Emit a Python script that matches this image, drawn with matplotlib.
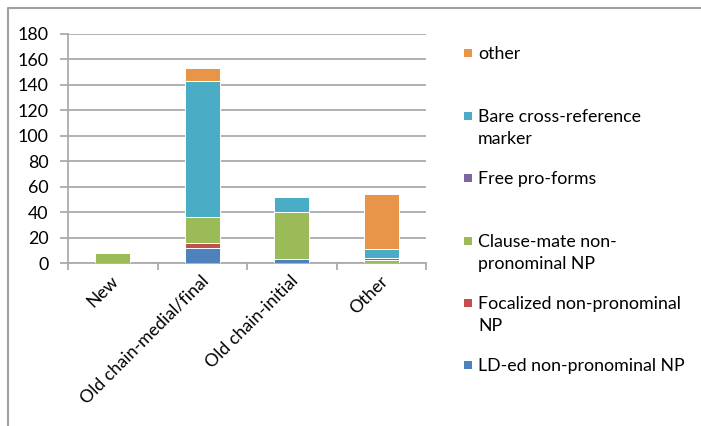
import numpy as np
import matplotlib
matplotlib.use("Agg")
from matplotlib import pyplot as plt
from matplotlib.patches import Rectangle
from matplotlib.lines import Line2D

plt.rcParams['font.family'] = ['Lato', 'DejaVu Sans']

# categories and stacked series (bottom to top)
categories = ['New', 'Old chain-medial/final', 'Old chain-initial', 'Other']
ld_ed = [0, 12, 3, 0]
focalized = [0, 4, 0, 0]
clause_mate = [8, 20, 37, 2]
free_pro = [0, 0, 0, 2]
bare_cross = [0, 107, 12, 7]
other = [0, 10, 0, 43]

series = [
    ('LD-ed non-pronominal NP', ld_ed, '#4F81BD'),
    ('Focalized non-pronominal\nNP', focalized, '#C0504D'),
    ('Clause-mate non-\npronominal NP', clause_mate, '#9BBB59'),
    ('Free pro-forms', free_pro, '#8064A2'),
    ('Bare cross-reference\nmarker', bare_cross, '#4BACC6'),
    ('other', other, '#E8954A'),
]

yticks = [0, 20, 40, 60, 80, 100, 120, 140, 160, 180]

W, H = 701, 426
fs = 12.8
fig = plt.figure(figsize=(W / 100, H / 100), dpi=100)
ax = fig.add_axes([68 / W, 1 - 263 / H, 358 / W, 229 / H])

grid_col = '#ABABAB'
x = np.arange(len(categories))
bottom = np.zeros(len(categories))
for name, vals, col in series:
    vals = np.array(vals, dtype=float)
    ax.bar(x, vals, 0.39, bottom=bottom, color=col, edgecolor='white',
           linewidth=0.7, zorder=3)
    bottom += vals

ax.set_xlim(-0.5, len(categories) - 0.5)
ax.set_ylim(0, 180)
ax.set_yticks(yticks)
ax.set_yticklabels([str(v) for v in yticks], fontsize=fs)
ax.yaxis.grid(True, color=grid_col, linewidth=1.3, zorder=0)
ax.tick_params(axis='y', length=6, width=1.3, color=grid_col, pad=8)

# category ticks at boundaries, labels under bar centers
ax.set_xticks(np.arange(len(categories) + 1) - 0.5)
ax.set_xticklabels([])
ax.tick_params(axis='x', length=5, width=1.3, color=grid_col)
for i, c in enumerate(categories):
    ax.annotate(c, xy=(i, 0), xycoords=('data', 'axes fraction'),
                xytext=(-2, -10), textcoords='offset pixels',
                rotation=45, ha='right', va='top', rotation_mode='anchor',
                fontsize=fs)

for s in ['top', 'right']:
    ax.spines[s].set_visible(False)
for s in ['left', 'bottom']:
    ax.spines[s].set_color(grid_col)
    ax.spines[s].set_linewidth(1.3)

# legend drawn manually, first-line positions evenly spaced
leg_y = [53, 116, 178, 241, 303, 365]
for (name, vals, col), yy in zip(reversed(series), leg_y):
    fig.patches.append(Rectangle((464 / W, 1 - (yy + 4) / H), 8 / W, 8 / H,
                                 transform=fig.transFigure, facecolor=col,
                                 edgecolor='none'))
    fig.text(478 / W, 1 - (yy - 7) / H, name, fontsize=fs, va='top',
             ha='left', linespacing=1.45)

# outer chart frame
fig.lines.append(Line2D([8 / W, 8 / W, 1], [0, 1 - 8 / H, 1 - 8 / H],
                        transform=fig.transFigure, color='#A0A0A0', linewidth=1.5))

fig.savefig('out.png', dpi=100)
